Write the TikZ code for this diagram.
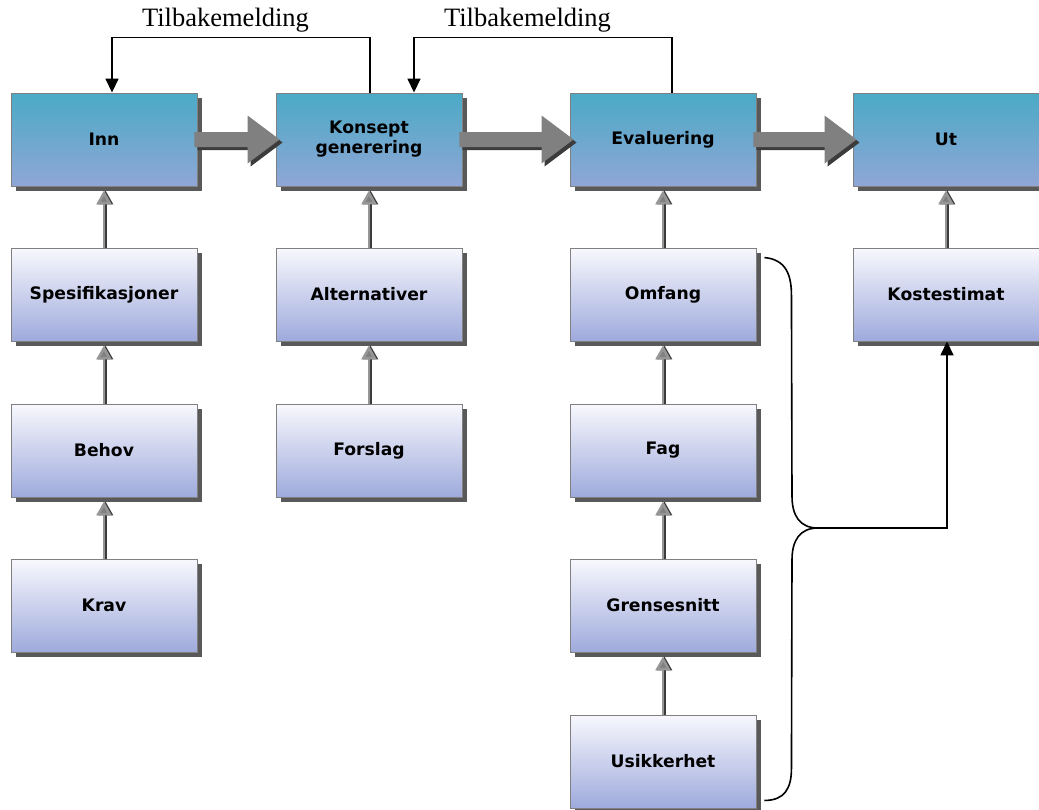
\documentclass[tikz,border=0pt]{standalone}
\usepackage{fontspec}
\usetikzlibrary{arrows.meta,calc,shadows}
\newfontfamily\boxfont{DejaVu Sans}
\setmainfont{Liberation Serif}

\definecolor{tealtop}{RGB}{74,170,198}
\definecolor{tealbot}{RGB}{144,166,214}
\definecolor{paletop}{RGB}{248,248,253}
\definecolor{palebot}{RGB}{158,170,220}
\definecolor{boxedge}{RGB}{128,128,128}
\definecolor{boxshade}{RGB}{72,72,72}
\definecolor{arrowgray}{RGB}{128,128,128}
\definecolor{arrowdark}{RGB}{60,60,60}
\definecolor{linkgray}{RGB}{150,150,150}

\tikzset{
  x=1pt, y=-1pt,
  basebox/.style={draw=boxedge, line width=0.9pt, minimum width=186pt,
    minimum height=93pt, inner sep=2pt, align=center,
    font=\boxfont\bfseries\fontsize{17.2}{20}\selectfont,
    drop shadow={shadow xshift=4.5pt, shadow yshift=-4.5pt,
      fill=boxshade, opacity=0.9}},
  mainbox/.style={basebox, top color=tealtop, bottom color=tealbot},
  subbox/.style={basebox, top color=paletop, bottom color=palebot},
  uplink/.style={line width=2.6pt, draw=linkgray,
    -{Triangle[width=15pt,length=14pt,fill=arrowgray]}},
  uplinkshade/.style={line width=2.6pt, draw=arrowdark,
    -{Triangle[width=15pt,length=14pt,fill=arrowdark]}},
  feedback/.style={line width=1.6pt, -{Triangle[width=13pt,length=14pt]}},
  fblabel/.style={font=\fontsize{26.5}{30}\selectfont, anchor=base},
  bracket/.style={line width=1.6pt},
}

% gray link from a lower box up to the box above it, with a dark edge
\newcommand\uplinkto[2]{%
  \draw[uplinkshade] ($(#1.north)+(1.5,0)$) -- ($(#2.south)+(1.5,4)$);
  \draw[uplink] (#1.north) -- ($(#2.south)+(0,4)$);
}

% thick block arrow between two boxes of the main row
\newcommand\bigarrow[2]{%
  \coordinate (ba-s) at ($(#1.east)+(-3,0)$);
  \coordinate (ba-t) at ($(#2.west)+(4,0)$);
  \foreach \dx/\dy/\col in {3/3/arrowdark, 0/0/arrowgray}{%
    \fill[\col] ($(ba-s)+(\dx,-7.5+\dy)$) -- ($(ba-t)+(-32+\dx,-7.5+\dy)$)
      -- ($(ba-t)+(-32+\dx,-24+\dy)$) -- ($(ba-t)+(\dx,\dy)$)
      -- ($(ba-t)+(-32+\dx,24+\dy)$) -- ($(ba-t)+(-32+\dx,7.5+\dy)$)
      -- ($(ba-s)+(\dx,7.5+\dy)$) -- cycle;}%
}

\begin{document}
\begin{tikzpicture}
\useasboundingbox[fill=white] (0,0) rectangle (1039,809);

% main row
\node[mainbox] (inn)  at (104,139.5) {Inn};
\node[mainbox] (kons) at (369,139.5) {Konsept\\generering};
\node[mainbox] (eval) at (663,139.5) {Evaluering};
\node[mainbox] (ut)   at (946,139.5) {Ut};

% first column
\node[subbox] (spes)  at (104,294.5) {Spesifikasjoner};
\node[subbox] (behov) at (104,450.5) {Behov};
\node[subbox] (krav)  at (104,605.5) {Krav};

% second column
\node[subbox] (alt)   at (369,294.5) {Alternativer};
\node[subbox] (forsl) at (369,450.5) {Forslag};

% third column
\node[subbox] (omf)   at (663,294.5) {Omfang};
\node[subbox] (fag)   at (663,450.5) {Fag};
\node[subbox] (grens) at (663,605.5) {Grensesnitt};
\node[subbox] (usik)  at (663,761.5) {Usikkerhet};

% fourth column
\node[subbox] (kost)  at (946,294.5) {Kostestimat};

% block arrows along the main row
\bigarrow{inn}{kons}
\bigarrow{kons}{eval}
\bigarrow{eval}{ut}

% links between stacked boxes
\uplinkto{spes}{inn}
\uplinkto{behov}{spes}
\uplinkto{krav}{behov}
\uplinkto{alt}{kons}
\uplinkto{forsl}{alt}
\uplinkto{omf}{eval}
\uplinkto{fag}{omf}
\uplinkto{grens}{fag}
\uplinkto{usik}{grens}
\uplinkto{kost}{ut}

% feedback loops
\draw[feedback] ($(kons.north)+(1,0)$) -- ++(0,-55)
  -| node[fblabel, pos=0.28, yshift=11pt] {Tilbakemelding}
  ($(inn.north)+(8,0)$);
\draw[feedback] ($(eval.north)+(9,0)$) -- ++(0,-55)
  -| node[fblabel, pos=0.28, yshift=11pt] {Tilbakemelding}
  ($(kons.north)+(45,0)$);

% brace gathering the third column, feeding the cost estimate
\coordinate (brtop) at ($(omf.north east)+(8,10)$);
\coordinate (brbot) at ($(usik.south east)+(8,-8)$);
\coordinate (brtip) at (818,528);
\draw[bracket] (brtop) .. controls ($(brtop)+(22,2)$) and ($(brtop)+(27,18)$)
  .. ($(brtop)+(27,38)$) -- (792,496)
  .. controls (792,516) and (800,528) .. (brtip)
  .. controls (800,528) and (792,540) .. (792,560)
  -- ($(brbot)+(27,-32)$)
  .. controls ($(brbot)+(27,-12)$) and ($(brbot)+(20,0)$) .. (brbot);
\draw[feedback] (brtip) -| ($(kost.south)+(1,0)$);
\end{tikzpicture}
\end{document}
